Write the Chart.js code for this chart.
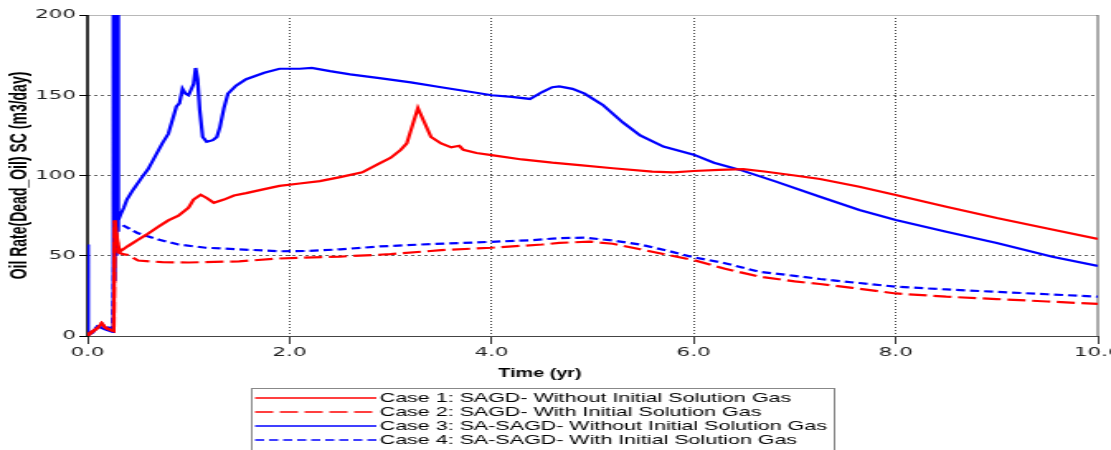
<!DOCTYPE html>
<html>
<head>
<meta charset="utf-8">
<script src="https://cdn.jsdelivr.net/npm/chart.js@4.4.0/dist/chart.umd.min.js"></script>
<style>
  html, body { margin: 0; padding: 0; background: #fff; overflow: hidden; }
  /* the reference is stretched sideways: draw narrow, widen with css */
  #oilChart { display: block; }
</style>
</head>
<body>
<canvas id="oilChart" width="673" height="450" style="width:1111px;height:450px"></canvas>
<script>
// tick values
const xTicks = [0, 2, 4, 6, 8, 10];
const yTicks = [0, 50, 100, 150, 200];

// Case 1: SAGD - without initial solution gas
const case1Years = [0, 0.02, 0.1, 0.14, 0.18, 0.26, 0.27, 0.29, 0.31, 0.33, 0.4, 0.5, 0.58, 0.7, 0.8, 0.9, 1.0, 1.05, 1.12, 1.18, 1.25, 1.35, 1.45, 1.57, 1.75, 1.9, 2.1, 2.3, 2.5, 2.72, 2.89, 3.0, 3.1, 3.16, 3.22, 3.27, 3.32, 3.4, 3.5, 3.6, 3.68, 3.72, 3.85, 4.0, 4.3, 4.6, 4.87, 5.2, 5.59, 5.8, 6.0, 6.25, 6.49, 6.7, 7.0, 7.25, 7.64, 8.0, 8.5, 9.0, 9.5, 10];
const case1Rates = [0, 2, 5, 8, 5, 3, 72, 62, 55, 53, 56, 60, 63, 68, 72, 75, 80, 85, 88, 86, 83, 85, 87.5, 89, 91.5, 93.5, 95, 96.5, 99, 102, 107.5, 111, 116, 120, 132, 142, 135, 124, 120, 117.5, 118.5, 116, 114, 112.7, 110, 108, 106.5, 104.5, 102.4, 102, 102.8, 103.5, 104, 102.5, 100, 97.8, 93, 87.8, 80.5, 73.5, 67, 60.5];

// Case 2: SAGD - with initial solution gas
const case2Years = [0, 0.1, 0.14, 0.18, 0.26, 0.27, 0.29, 0.31, 0.35, 0.4, 0.5, 0.74, 1.0, 1.5, 1.9, 2.5, 3.0, 3.5, 4.0, 4.5, 4.67, 4.97, 5.2, 5.47, 5.75, 6.0, 6.3, 6.65, 7.0, 7.25, 7.57, 8.0, 8.5, 9.0, 9.5, 10];
const case2Rates = [0, 5, 8, 5, 3, 72, 60, 52, 51, 50.5, 47, 46, 45.8, 46.5, 48.3, 49.5, 51, 53.5, 55, 57, 58, 58.8, 57.5, 54, 50.5, 47.3, 42, 37, 34, 32.4, 30, 26.5, 24.5, 23, 21.5, 20];

// Case 3: SA-SAGD - without initial solution gas
const case3Years = [0, 0.003, 0.008, 0.05, 0.1, 0.18, 0.25, 0.253, 0.256, 0.259, 0.262, 0.265, 0.268, 0.271, 0.274, 0.277, 0.28, 0.283, 0.286, 0.289, 0.292, 0.295, 0.298, 0.301, 0.304, 0.307, 0.31, 0.33, 0.36, 0.39, 0.45, 0.54, 0.6, 0.67, 0.74, 0.8, 0.88, 0.91, 0.94, 0.97, 1.0, 1.05, 1.07, 1.09, 1.11, 1.14, 1.18, 1.24, 1.28, 1.31, 1.35, 1.39, 1.47, 1.57, 1.75, 1.9, 2.1, 2.22, 2.4, 2.6, 2.89, 3.2, 3.5, 3.8, 4.0, 4.2, 4.38, 4.5, 4.6, 4.67, 4.8, 4.92, 5.1, 5.3, 5.47, 5.7, 6.0, 6.2, 6.46, 6.8, 7.25, 7.64, 8.0, 8.5, 9.0, 9.55, 10];
const case3Rates = [0, 57, 1, 2, 6, 4, 2.5, 210, 30, 230, 35, 220, 45, 240, 40, 215, 55, 235, 50, 225, 62, 210, 65, 220, 70, 205, 72, 76, 80, 85, 91, 99, 104, 112, 120, 126, 143, 145, 154, 151, 150, 157, 167, 160, 141, 124, 121, 122, 124, 130, 142, 151, 156, 160, 164, 166.5, 166.5, 167, 165, 163, 160.7, 158, 155, 152, 150, 149, 147.7, 152, 155, 155.5, 154, 151, 144, 133, 125, 118, 113, 108, 103.5, 96.5, 86.8, 78.5, 72.3, 65, 58, 49.4, 43.6];

// Case 4: SA-SAGD - with initial solution gas
const case4Years = [0, 0.1, 0.25, 0.27, 0.29, 0.32, 0.5, 0.71, 0.9, 1.17, 1.5, 1.9, 2.2, 2.5, 2.89, 3.3, 4.0, 4.4, 4.67, 4.92, 5.2, 5.47, 5.75, 6.0, 6.3, 6.65, 7.0, 7.25, 7.64, 8.0, 8.5, 9.0, 9.5, 10];
const case4Rates = [0, 6, 5, 72, 70, 70, 64, 60, 57, 55, 54, 52.8, 53, 54, 55.8, 57, 58.7, 59.7, 61, 61.3, 59.5, 57, 53, 49, 45.5, 40, 37.5, 35.5, 33, 30.7, 29, 27.5, 26, 24.5];

const seriesLabels = [
  'Case 1: SAGD- Without Initial Solution Gas',
  'Case 2: SAGD- With Initial Solution Gas',
  'Case 3: SA-SAGD- Without Initial Solution Gas',
  'Case 4: SA-SAGD- With Initial Solution Gas'
];

function toPoints(xs, ys) {
  return xs.map((x, i) => ({ x: x, y: ys[i] }));
}

// draws the axis lines, grey frame, the x title and the boxed legend under the plot
const framePlugin = {
  id: 'frame',
  beforeDatasetsDraw(chart) {
    const { ctx, chartArea: a } = chart;
    ctx.save();
    ctx.lineWidth = 1;
    ctx.strokeStyle = '#b8b8b8';
    ctx.beginPath();
    ctx.moveTo(a.left, a.top + 0.5);
    ctx.lineTo(a.right, a.top + 0.5);
    ctx.stroke();
    ctx.strokeStyle = '#555';
    ctx.beginPath();
    ctx.moveTo(a.right, a.top);
    ctx.lineTo(a.right, a.bottom);
    ctx.stroke();
    ctx.strokeStyle = '#444';
    ctx.beginPath();
    ctx.moveTo(a.left, a.bottom + 0.5);
    ctx.lineTo(a.right, a.bottom + 0.5);
    ctx.stroke();
    ctx.strokeStyle = '#000';
    ctx.lineWidth = 1.6;
    ctx.beginPath();
    ctx.moveTo(a.left, a.top);
    ctx.lineTo(a.left, a.bottom + 1);
    ctx.stroke();
    ctx.restore();
  },
  afterDraw(chart) {
    const ctx = chart.ctx;
    ctx.save();
    ctx.fillStyle = '#000';
    ctx.font = 'bold 12px "Liberation Sans", Arial, sans-serif';
    ctx.textAlign = 'center';
    ctx.textBaseline = 'middle';
    ctx.fillText('Time (yr)', 327, 374);

    ctx.strokeStyle = '#888';
    ctx.lineWidth = 1;
    ctx.strokeRect(152.5, 388.5, 353, 70);

    ctx.textAlign = 'left';
    ctx.font = '13px "Liberation Sans", Arial, sans-serif';
    chart.data.datasets.forEach((ds, i) => {
      const y = 398 + i * 14;
      ctx.strokeStyle = ds.borderColor;
      ctx.lineWidth = 1.5;
      ctx.setLineDash(ds.borderDash || []);
      ctx.beginPath();
      ctx.moveTo(154.5, y);
      ctx.lineTo(228, y);
      ctx.stroke();
      ctx.setLineDash([]);
      ctx.fillStyle = '#000';
      ctx.fillText(ds.label, 230, y + 0.5);
    });
    ctx.restore();
  }
};

new Chart(document.getElementById('oilChart'), {
  type: 'line',
  data: {
    datasets: [{
      label: seriesLabels[0],
      data: toPoints(case1Years, case1Rates),
      borderColor: '#ff0000',
      borderWidth: 2.2
    }, {
      label: seriesLabels[1],
      data: toPoints(case2Years, case2Rates),
      borderColor: '#ff0000',
      borderWidth: 2.2,
      borderDash: [11, 4]
    }, {
      label: seriesLabels[2],
      data: toPoints(case3Years, case3Rates),
      borderColor: '#0000ff',
      borderWidth: 2.2
    }, {
      label: seriesLabels[3],
      data: toPoints(case4Years, case4Rates),
      borderColor: '#0000ff',
      borderWidth: 2.2,
      borderDash: [5.5, 3]
    }]
  },
  options: {
    responsive: false,
    devicePixelRatio: 1,
    animation: false,
    layout: { padding: { top: 15, right: 8, left: 0, bottom: 0 } },
    elements: { point: { radius: 0 }, line: { tension: 0 } },
    plugins: { legend: { display: false }, tooltip: { enabled: false } },
    scales: {
      x: {
        type: 'linear',
        min: 0,
        max: 10,
        afterBuildTicks: s => { s.ticks = xTicks.map(v => ({ value: v })); },
        afterFit: s => { s.height = 114; s.paddingLeft = 0; s.paddingRight = 0; },
        ticks: {
          maxRotation: 0,
          autoSkip: false,
          padding: 1,
          color: '#222',
          font: { family: '"DejaVu Sans", Verdana, sans-serif', size: 13 },
          callback: v => v.toFixed(1)
        },
        grid: {
          color: c => (c.tick && c.tick.value > 0 && c.tick.value < 10) ? '#111' : 'rgba(0,0,0,0)',
          tickColor: '#000',
          tickBorderDash: [],
          tickLength: 8,
          lineWidth: 0.8
        },
        border: { display: false, dash: [1, 2] }
      },
      y: {
        min: 0,
        max: 200,
        afterBuildTicks: s => { s.ticks = yTicks.map(v => ({ value: v })); },
        afterFit: s => { s.width = 53; s.paddingTop = 0; s.paddingBottom = 0; },
        ticks: {
          padding: 2,
          color: '#222',
          font: { family: '"DejaVu Sans", Verdana, sans-serif', size: 13 }
        },
        grid: {
          color: c => (c.tick && c.tick.value > 0 && c.tick.value < 200) ? '#666' : 'rgba(0,0,0,0)',
          tickColor: '#000',
          tickBorderDash: [],
          tickLength: 5,
          lineWidth: 1
        },
        border: { display: false, dash: [2, 2] },
        title: {
          display: true,
          text: 'Oil Rate(Dead_Oil) SC (m3/day)',
          color: '#000',
          font: { family: '"Liberation Sans", Arial, sans-serif', size: 14, weight: 'bold' },
          padding: { top: 4, bottom: 0 }
        }
      }
    }
  },
  plugins: [framePlugin]
});
</script>
</body>
</html>
